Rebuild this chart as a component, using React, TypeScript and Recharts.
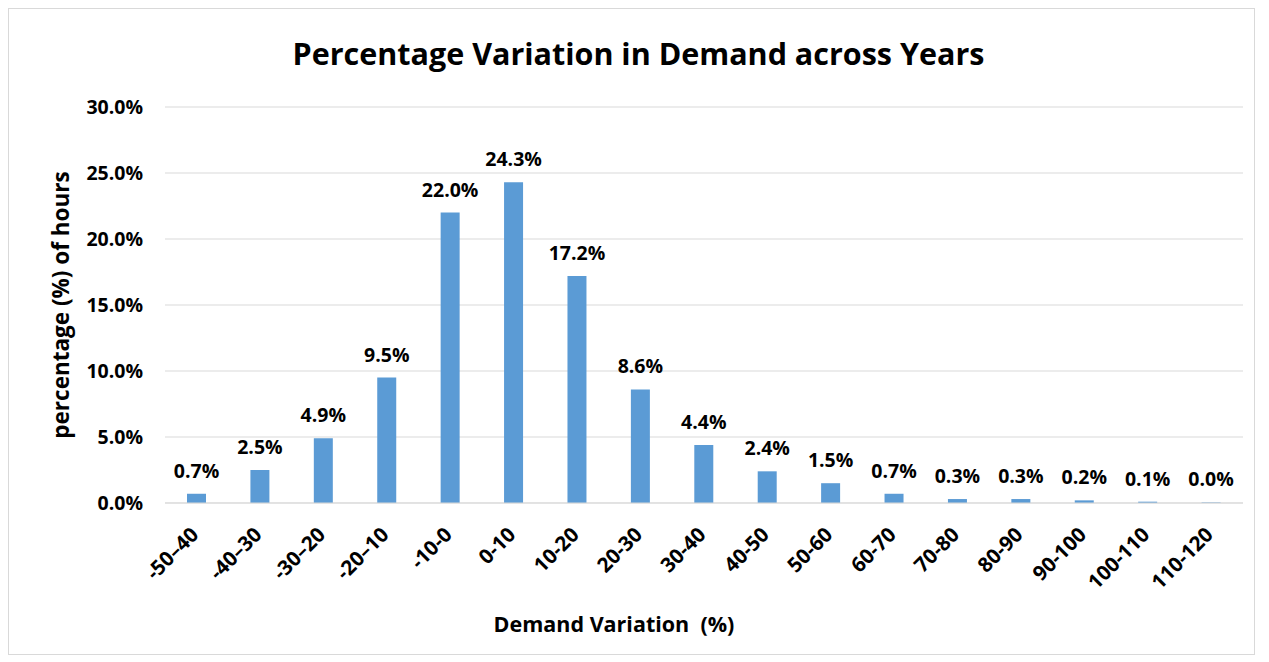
import { BarChart, Bar, XAxis, YAxis, CartesianGrid, LabelList } from "recharts";

const bins = [
  "-50–40", "-40–30", "-30–20", "-20–10", "-10-0", "0-10", "10-20", "20-30",
  "30-40", "40-50", "50-60", "60-70", "70-80", "80-90", "90-100", "100-110", "110-120",
];
const shares = [0.7, 2.5, 4.9, 9.5, 22.0, 24.3, 17.2, 8.6, 4.4, 2.4, 1.5, 0.7, 0.3, 0.3, 0.2, 0.1, 0.04];
const yTicks = [0, 5, 10, 15, 20, 25, 30];

const data = bins.map((bin, i) => ({ bin, share: shares[i] }));

const FONT = "'Open Sans', Lato, sans-serif";

function BinTick(props: any) {
  const { x, y, payload } = props;
  return (
    <text
      transform={`translate(${x + 3},${y + 31}) rotate(-45)`}
      textAnchor="end"
      fontSize={20.5}
      fontWeight={700}
      fontFamily={FONT}
      fill="#000"
    >
      {payload.value}
    </text>
  );
}

export default function App() {
  return (
    <div
      style={{
        position: "relative",
        width: 1247,
        height: 647,
        border: "1px solid #d9d9d9",
        boxSizing: "border-box",
        background: "#fff",
      }}
    >
      <div
        style={{
          position: "absolute",
          left: 0,
          right: 0,
          top: 23,
          textAlign: "center",
          fontFamily: FONT,
          fontWeight: 700,
          fontSize: 30.5,
          color: "#000",
          paddingLeft: 14,
        }}
      >
        Percentage Variation in Demand across Years
      </div>
      <BarChart
        width={1245}
        height={645}
        data={data}
        margin={{ top: 98, right: 11, bottom: 22, left: 0 }}
        barSize={19}
      >
        <CartesianGrid vertical={false} stroke="#d9d9d9" />
        <XAxis
          dataKey="bin"
          interval={0}
          height={129}
          tickSize={0}
          tick={<BinTick />}
          axisLine={{ stroke: "#d9d9d9" }}
          label={{
            value: "Demand Variation\u00a0 (%)",
            position: "insideBottom",
            offset: 0,
            dx: -90,
            fontSize: 21.5,
            fontWeight: 700,
            fontFamily: FONT,
            fill: "#000",
          }}
        />
        <YAxis
          domain={[0, 30]}
          ticks={yTicks}
          width={156}
          tickSize={0}
          tickMargin={22}
          axisLine={false}
          tickFormatter={(v: number) => `${v.toFixed(1)}%`}
          tick={{ fontSize: 19.5, fontWeight: 700, fontFamily: FONT, fill: "#000" }}
          label={{
            value: "percentage (%) of hours",
            angle: -90,
            position: "center",
            dx: -26,
            fontSize: 22.5,
            fontWeight: 700,
            fontFamily: FONT,
            fill: "#000",
          }}
        />
        <Bar dataKey="share" fill="#5b9bd5" isAnimationActive={false}>
          <LabelList
            dataKey="share"
            position="top"
            offset={16}
            formatter={(v: any) => `${Number(v).toFixed(1)}%`}
            fontSize={19.5}
            fontWeight={700}
            fontFamily={FONT}
            fill="#000"
          />
        </Bar>
      </BarChart>
    </div>
  );
}
